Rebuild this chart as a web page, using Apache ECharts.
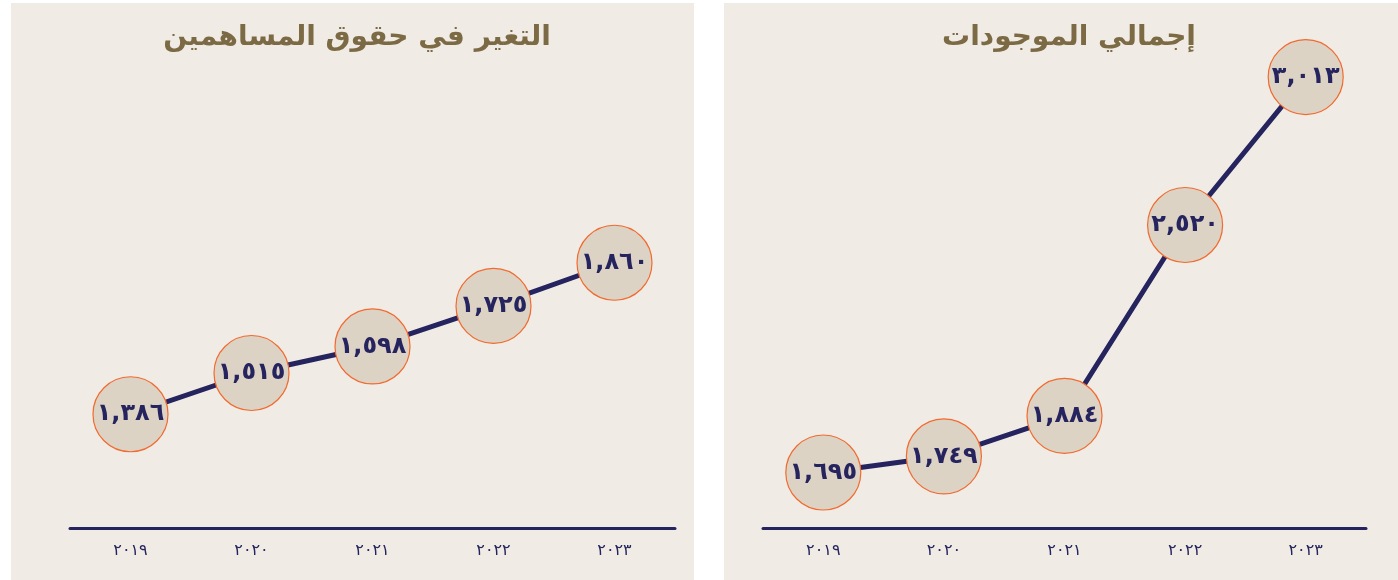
<!DOCTYPE html>
<html>
<head>
<meta charset="utf-8">
<script src="https://cdn.jsdelivr.net/npm/echarts@6/dist/echarts.min.js"></script>
<style>
  html, body { margin: 0; padding: 0; background: #ffffff; }
  #chart { width: 1398px; height: 580px; }
</style>
</head>
<body>
<div id="chart"></div>
<script>
  // years shown under both charts (Arabic-Indic digits)
  var years = ['٢٠١٩', '٢٠٢٠', '٢٠٢١', '٢٠٢٢', '٢٠٢٣']
  // equity change (left) and total assets (right)
  var equity = [1386, 1515, 1598, 1725, 1860]
  var assets = [1695, 1749, 1884, 2520, 3013]
  var titles = ['التغير في حقوق المساهمين', 'إجمالي الموجودات']

  var navy = '#26245f'
  var arabicDigits = '٠١٢٣٤٥٦٧٨٩'
  function toArabic (n) {
    var s = n.toLocaleString('en-US')
    return s.replace(/[0-9]/g, function (d) { return arabicDigits[+d] })
  }

  function makeSeries (data, idx) {
    return {
      type: 'line',
      xAxisIndex: idx,
      yAxisIndex: idx,
      data: data,
      symbol: 'circle',
      symbolSize: 75,
      lineStyle: { color: navy, width: 5 },
      itemStyle: { color: '#ddd3c5', borderColor: '#f26a2e', borderWidth: 1.2 },
      label: {
        show: true,
        position: 'inside',
        color: navy,
        fontFamily: 'DejaVu Sans',
        fontWeight: 'bold',
        fontSize: 24,
        formatter: function (p) { return toArabic(p.value) }
      },
      animation: false,
      z: 3
    }
  }

  function xAxisFor (idx) {
    return {
      type: 'category',
      gridIndex: idx,
      data: years,
      boundaryGap: true,
      axisLine: { lineStyle: { color: navy, width: 3 } },
      axisTick: { show: false },
      axisLabel: { color: navy, fontFamily: 'DejaVu Sans', fontSize: 16, margin: 15 }
    }
  }

  var chart = echarts.init(document.getElementById('chart'))
  chart.setOption({
    backgroundColor: '#ffffff',
    graphic: [
      { type: 'rect', shape: { x: 11, y: 3, width: 683, height: 577 }, style: { fill: '#f0ece5' }, z: -10 },
      { type: 'rect', shape: { x: 724, y: 3, width: 674, height: 577 }, style: { fill: '#f0ece5' }, z: -10 }
    ],
    title: [
      {
        text: titles[0], left: 352, top: 19, textAlign: 'center',
        textStyle: { color: '#7c6a45', fontFamily: 'DejaVu Sans', fontWeight: 'bold', fontSize: 28 }
      },
      {
        text: titles[1], left: 1064, top: 19, textAlign: 'center',
        textStyle: { color: '#7c6a45', fontFamily: 'DejaVu Sans', fontWeight: 'bold', fontSize: 28 }
      }
    ],
    grid: [
      { left: 70, width: 605, top: 218, bottom: 52 },
      { left: 763, width: 603, top: 21, bottom: 52 }
    ],
    xAxis: [xAxisFor(0), xAxisFor(1)],
    yAxis: [
      { type: 'value', gridIndex: 0, min: 1030, max: 2000, show: false, splitLine: { show: false } },
      { type: 'value', gridIndex: 1, min: 1510, max: 3200, show: false, splitLine: { show: false } }
    ],
    series: [makeSeries(equity, 0), makeSeries(assets, 1)]
  })
</script>
</body>
</html>
